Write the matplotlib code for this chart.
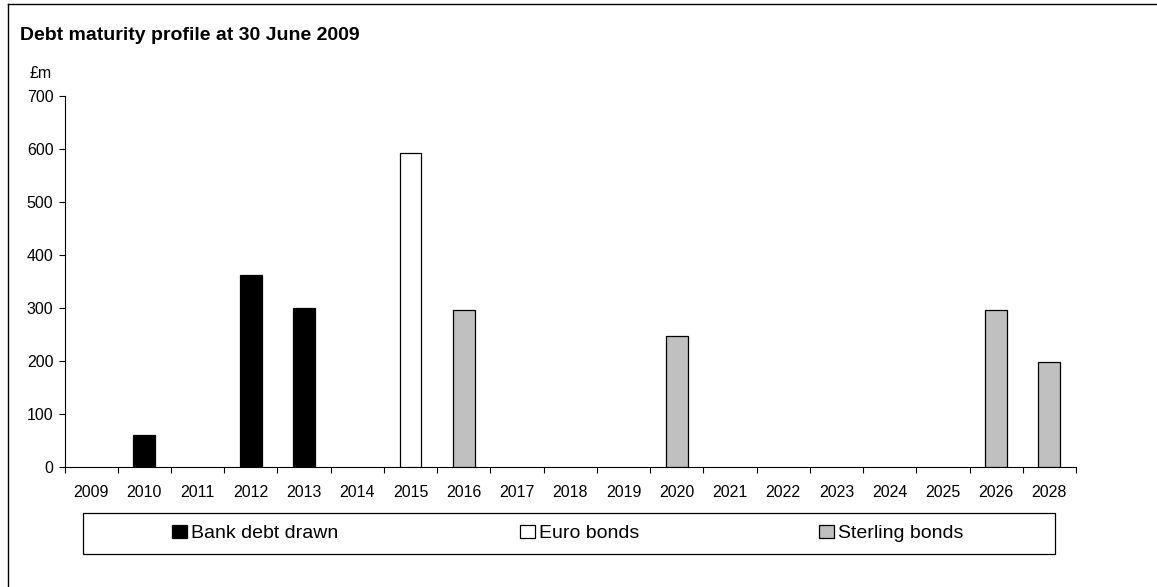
import matplotlib
matplotlib.use("Agg")
import matplotlib.pyplot as plt
from matplotlib.lines import Line2D
from matplotlib.patches import Rectangle

plt.rcParams['font.family'] = ['Liberation Sans', 'DejaVu Sans']

# donnees
annees = ['2009', '2010', '2011', '2012', '2013', '2014', '2015', '2016', '2017', '2018',
          '2019', '2020', '2021', '2022', '2023', '2024', '2025', '2026', '2028']
bank_annees = ['2010', '2012', '2013']
bank_valeurs = [60, 362, 300]
euro_annees = ['2015']
euro_valeurs = [593]
sterling_annees = ['2016', '2020', '2026', '2028']
sterling_valeurs = [297, 247, 297, 198]

W, H = 1157, 587
fig = plt.figure(figsize=(W / 100, H / 100), dpi=100)
fig.patch.set_facecolor('white')

ax = fig.add_axes([64.5 / W, 1 - 467 / H, (1076 - 64.5) / W, (467 - 96) / H])

largeur = 0.41
series = [
    (bank_annees, bank_valeurs, 'black', 'Bank debt drawn'),
    (euro_annees, euro_valeurs, 'white', 'Euro bonds'),
    (sterling_annees, sterling_valeurs, '#c0c0c0', 'Sterling bonds'),
]
barres = []
for noms, valeurs, couleur, label in series:
    pos = [annees.index(a) for a in noms]
    b = ax.bar(pos, valeurs, width=largeur, color=couleur, edgecolor='black',
               linewidth=0.9, label=label, zorder=3)
    barres.append(b)

ax.set_xlim(-0.5, len(annees) - 0.5)
ax.set_ylim(0, 700)
ax.set_yticks(range(0, 701, 100))

# graduations aux limites des categories, etiquettes au centre
ax.set_xticks([i - 0.5 for i in range(len(annees) + 1)])
ax.set_xticklabels([])
ax.set_xticks(range(len(annees)), minor=True)
ax.set_xticklabels(annees, minor=True)
ax.tick_params(axis='x', which='major', length=4, width=0.8, direction='out')
ax.tick_params(axis='x', which='minor', length=0, pad=13, labelsize=11.5)
ax.tick_params(axis='y', length=4, width=0.8, direction='out', pad=4, labelsize=11.5)

for cote in ['top', 'right']:
    ax.spines[cote].set_visible(False)
for cote in ['left', 'bottom']:
    ax.spines[cote].set_linewidth(0.8)

# titre et unite
fig.text(20 / W, 1 - 40 / H, 'Debt maturity profile at 30 June 2009', fontsize=14,
         fontweight='bold', va='baseline', ha='left')
fig.text(29 / W, 1 - 78 / H, '£m', fontsize=11.5, va='baseline', ha='left')

# cadre de la legende
fig.patches.append(Rectangle((83 / W, 1 - 554 / H), (1055 - 83) / W, (554 - 513) / H,
                             transform=fig.transFigure, facecolor='white',
                             edgecolor='black', linewidth=0.9, zorder=1))
xs_legende = [172, 520, 819]
for b, xl in zip(barres, xs_legende):
    leg = fig.legend(handles=[b], loc='center left',
                     bbox_to_anchor=(xl / W, 1 - 533.5 / H), frameon=False,
                     fontsize=14, handlelength=0.75, handleheight=0.7,
                     handletextpad=0.25, borderpad=0, borderaxespad=0)
    leg.set_zorder(5)

# bord de l'image (haut et gauche)
fig.lines.append(Line2D([8 / W, 8 / W], [0, 1 - 4 / H], transform=fig.transFigure,
                        color='black', linewidth=1))
fig.lines.append(Line2D([8 / W, 1], [1 - 4 / H, 1 - 4 / H], transform=fig.transFigure,
                        color='black', linewidth=1))

fig.savefig('out.png', dpi=100)
